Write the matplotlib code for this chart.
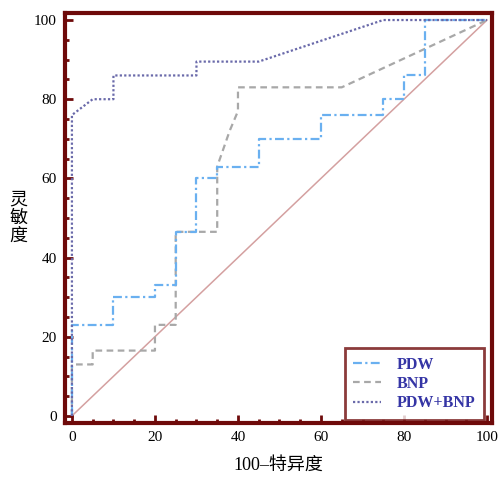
import numpy as np
import matplotlib.pyplot as plt
from matplotlib.ticker import MultipleLocator

plt.rcParams['font.family'] = ['Liberation Serif', 'Noto Sans CJK SC']

# ROC curves (x = 100-specificity, y = sensitivity)
pdw_x = [0, 0, 10, 10, 20, 20, 25, 25, 30, 30, 35, 35, 45, 45, 60, 60, 75, 75, 80, 80, 85, 85, 100]
pdw_y = [0, 23, 23, 30, 30, 33, 33, 46.5, 46.5, 60, 60, 63, 63, 70, 70, 76, 76, 80, 80, 86, 86, 100, 100]

bnp_x = [0, 0, 5, 5, 20, 20, 25, 25, 35, 35, 38, 40, 40, 65, 100]
bnp_y = [0, 13, 13, 16.5, 16.5, 23, 23, 46.5, 46.5, 63, 72, 77, 83, 83, 100]

both_x = [0, 0, 5, 10, 10, 30, 30, 45, 75, 100]
both_y = [0, 76, 80, 80, 86, 86, 89.5, 89.5, 100, 100]

ref = [0, 100]

dark = '#6e0a0a'

fig = plt.figure(figsize=(4.99, 4.78), dpi=100)
ax = fig.add_axes([0.130, 0.115, 0.856, 0.858])

ax.plot(ref, ref, color='#d4a0a0', lw=1.1, zorder=1)
ax.plot(pdw_x, pdw_y, color='#6ab0f0', lw=1.6, ls=(0, (4, 1.5, 1, 1.5)), label='PDW', zorder=3)
ax.plot(bnp_x, bnp_y, color='#a8a8a8', lw=1.6, ls=(0, (3, 2)), label='BNP', zorder=2)
ax.plot(both_x, both_y, color='#6a6aaa', lw=1.6, ls=(0, (1, 1)), label='PDW+BNP', zorder=4)

ax.set_xlim(-1.7, 101.2)
ax.set_ylim(-1.8, 101.8)

for s in ax.spines.values():
    s.set_color(dark)
    s.set_linewidth(3)

ax.xaxis.set_major_locator(MultipleLocator(20))
ax.xaxis.set_minor_locator(MultipleLocator(5))
ax.yaxis.set_major_locator(MultipleLocator(20))
ax.yaxis.set_minor_locator(MultipleLocator(5))
ax.tick_params(which='both', direction='in', color=dark, width=2,
               top=False, right=False, labelsize=11, pad=6)
ax.tick_params(which='major', length=6)
ax.tick_params(which='minor', length=3)

ax.set_xlabel('100–特异度', fontsize=13, labelpad=9,
              family=['Liberation Serif', 'Noto Sans CJK SC'])
ax.set_ylabel('灵\n敏\n度', fontsize=13, rotation=0, va='center',
              linespacing=1.0, labelpad=11,
              family=['Noto Sans CJK SC'])

leg = ax.legend(loc='lower right', bbox_to_anchor=(1.0, -0.012),
                frameon=True, fancybox=False, handlelength=1.7, handletextpad=1.0,
                prop={'family': 'Liberation Serif', 'weight': 'bold', 'size': 11.5},
                borderpad=0.55, labelspacing=0.2)
leg.get_frame().set_edgecolor(dark)
leg.get_frame().set_linewidth(2)
for t in leg.get_texts():
    t.set_color('#3535a5')

fig.savefig('out.png', dpi=100)
